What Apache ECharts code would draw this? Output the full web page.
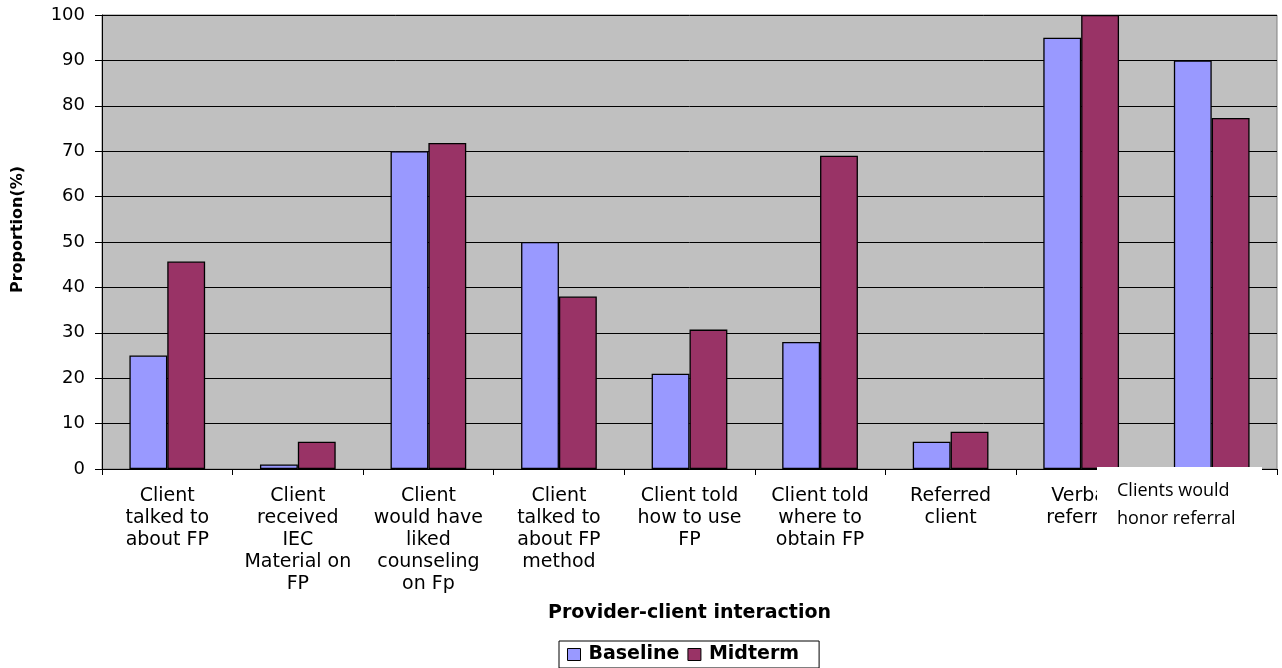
<!DOCTYPE html>
<html>
<head>
<meta charset="utf-8">
<script src="https://cdn.jsdelivr.net/npm/echarts@6/dist/echarts.min.js"></script>
<style>
  html, body { margin: 0; padding: 0; background: #fff; }
  #chart { width: 1282px; height: 668px; }
</style>
</head>
<body>
<div id="chart"></div>
<script>
  // categories along the x axis (last one is overwritten by a pasted text box in the original)
  var categories = [
    'Client\ntalked to\nabout FP',
    'Client\nreceived\nIEC\nMaterial on\nFP',
    'Client\nwould have\nliked\ncounseling\non Fp',
    'Client\ntalked to\nabout FP\nmethod',
    'Client told\nhow to use\nFP',
    'Client told\nwhere to\nobtain FP',
    'Referred\nclient',
    'Verbal\nreferral',
    ''
  ];
  var lastLabel = 'Clients would\nhonor referral';

  var baseline = [25, 1, 70, 50, 21, 28, 6, 95, 90];
  var midterm = [45.7, 6, 71.8, 38, 30.7, 69, 8.2, 100, 77.3];

  var chart = echarts.init(document.getElementById('chart'));

  var font = '"DejaVu Sans", sans-serif';

  var option = {
    animation: false,
    textStyle: { fontFamily: font },
    grid: {
      left: 102,
      right: 5,
      top: 15,
      bottom: 199,
      outerBoundsMode: 'none',
      show: true,
      backgroundColor: '#C0C0C0',
      borderColor: '#808080',
      borderWidth: 1
    },
    legend: {
      top: 641,
      left: 559,
      data: ['Baseline', 'Midterm'],
      icon: 'rect',
      itemWidth: 13,
      itemHeight: 12,
      itemGap: 8,
      padding: [4, 20, 4, 8],
      borderColor: '#000',
      borderWidth: 1,
      itemStyle: { borderColor: '#000', borderWidth: 1 },
      textStyle: {
        fontFamily: font,
        fontSize: 19,
        fontWeight: 'bold',
        color: '#000',
        padding: [0, 0, 0, 3]
      }
    },
    xAxis: {
      type: 'category',
      data: categories,
      name: 'Provider-client interaction',
      nameLocation: 'middle',
      nameGap: 135,
      nameTextStyle: { fontFamily: font, fontSize: 19, fontWeight: 'bold', color: '#000' },
      axisLine: { lineStyle: { color: '#000', width: 1 } },
      axisTick: { show: true, length: 6, lineStyle: { color: '#000' } },
      axisLabel: {
        interval: 0,
        margin: 16,
        fontSize: 19,
        lineHeight: 22,
        color: '#000',
        align: 'center',
        verticalAlign: 'top'
      }
    },
    yAxis: {
      type: 'value',
      min: 0,
      max: 100,
      interval: 10,
      name: 'Proportion(%)',
      nameLocation: 'middle',
      nameGap: 76,
      nameTextStyle: {
        fontFamily: font,
        fontSize: 16,
        fontWeight: 'bold',
        color: '#000',
        padding: [0, 0, 0, 25]
      },
      axisLine: { show: true, lineStyle: { color: '#000', width: 1 } },
      axisTick: { show: true, length: 7, lineStyle: { color: '#000' } },
      axisLabel: { fontSize: 18, color: '#000', margin: 17 },
      splitLine: { lineStyle: { color: '#000', width: 1 } }
    },
    series: [{
      name: 'Baseline',
      type: 'bar',
      data: baseline,
      barGap: '0%',
      barCategoryGap: '42%',
      itemStyle: { color: '#9999FF', borderColor: '#000', borderWidth: 1.3 }
    }, {
      name: 'Midterm',
      type: 'bar',
      data: midterm,
      itemStyle: { color: '#993366', borderColor: '#000', borderWidth: 1.3 }
    }],
    graphic: [{
      type: 'rect',
      z: 100,
      shape: { x: 1097, y: 467, width: 165, height: 70 },
      style: { fill: '#fff' }
    }, {
      type: 'text',
      z: 101,
      x: 1117,
      y: 477,
      style: {
        text: lastLabel,
        font: '18px "Open Sans", "Noto Sans", sans-serif',
        lineHeight: 28,
        fill: '#000'
      }
    }]
  };

  chart.setOption(option);
</script>
</body>
</html>
